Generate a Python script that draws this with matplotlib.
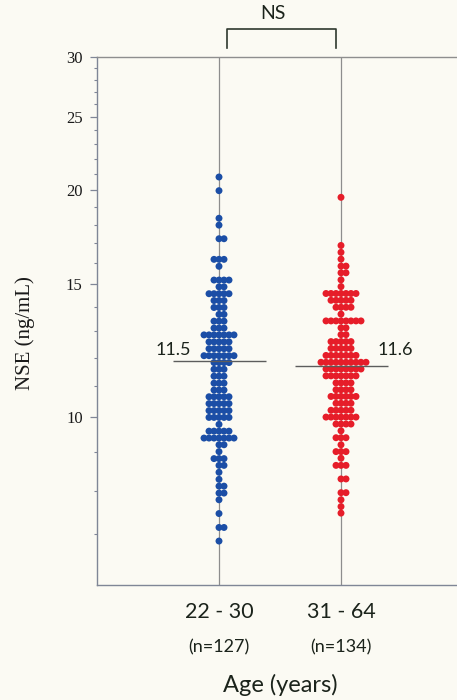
import matplotlib
matplotlib.use("Agg")
import matplotlib.pyplot as plt
import numpy as np
from matplotlib import transforms
from matplotlib.ticker import FixedLocator, NullFormatter, FixedFormatter

# ---------------- data ----------------
categories = ["22 - 30", "31 - 64"]
n_labels = ["(n=127)", "(n=134)"]

# dot rows: value (ng/mL) and number of dots in that row
blue_levels = [20.81, 19.96, 18.35, 17.97, 17.24, 16.19, 15.85, 15.20,
               14.89, 14.58, 14.28, 13.98, 13.69, 13.41, 13.13, 12.86,
               12.59, 12.33, 12.07, 11.82, 11.58, 11.34, 11.10, 10.87,
               10.65, 10.43, 10.21, 10.00, 9.79, 9.59, 9.39, 9.20,
               9.01, 8.82, 8.64, 8.46, 8.28, 8.11, 7.94, 7.78,
               7.46, 7.15, 6.86]
blue_counts = [1, 1, 1, 1, 2, 3, 1, 4,
               2, 5, 3, 3, 2, 3, 3, 7,
               5, 5, 7, 4, 3, 3, 3, 3,
               5, 5, 5, 5, 1, 5, 7, 2,
               1, 3, 2, 1, 1, 2, 2, 1,
               1, 2, 1]

red_levels = [19.56, 16.89, 16.54, 16.20, 15.86, 15.54, 15.21, 14.90,
              14.59, 14.29, 13.99, 13.70, 13.42, 13.14, 12.87, 12.60,
              12.34, 12.08, 11.83, 11.59, 11.35, 11.11, 10.88, 10.66,
              10.44, 10.22, 10.01, 9.80, 9.60, 9.40, 9.20, 9.01,
              8.83, 8.64, 8.29, 7.95, 7.78, 7.62, 7.47]
red_counts = [1, 1, 1, 1, 2, 2, 1, 1,
              7, 5, 4, 1, 8, 2, 2, 5,
              5, 7, 10, 8, 7, 4, 4, 6,
              4, 5, 7, 4, 1, 3, 1, 3,
              1, 3, 2, 2, 1, 1, 1]

median_lines = [11.88, 11.71]       # where the horizontal lines are drawn
median_labels = ["11.5", "11.6"]    # numbers printed next to them

y_ticks = [10, 15, 20, 25, 30]
y_tick_labels = ["10", "15", "20", "25", "30"]
y_minor = [7, 8, 9, 11, 12, 13, 14, 16, 17, 18, 19, 21, 22, 23, 24, 26, 27, 28, 29]

# ---------------- style ----------------
bg = "#fbfaf3"
blue = "#1b4ea6"
red = "#e61d29"
txt = "#1b231b"
axis_col = "#7f8696"
serif = ["Liberation Serif", "DejaVu Serif"]
sans = ["Lato", "DejaVu Sans"]

fig = plt.figure(figsize=(4.57, 7.0), dpi=100)
fig.patch.set_facecolor(bg)
ax = fig.add_axes([97 / 457, 115 / 700, 366 / 457, 528 / 700])
ax.set_facecolor(bg)
ax.set_yscale("log")
ax.set_ylim(6, 30)
ax.set_xlim(0, 3)

centers = [1, 2]
dx = 5.0 / 122.0  # horizontal spacing between neighbouring dots


def swarm(center, levels, counts):
    xs, ys = [], []
    for v, n in zip(levels, counts):
        if n % 2 == 1:
            offs = np.arange(n) - (n - 1) / 2
        else:
            offs = np.arange(n) - (n / 2 - 1)
        xs.extend(center + offs * dx)
        ys.extend([v] * n)
    return np.array(xs), np.array(ys)


for c in centers:
    ax.axvline(c, color="#8d8d8d", lw=0.9, zorder=1)

for c, lev, cnt, col in [(1, blue_levels, blue_counts, blue),
                         (2, red_levels, red_counts, red)]:
    xs, ys = swarm(c, lev, cnt)
    ax.scatter(xs, ys, s=25, c=col, edgecolors="none", zorder=3)

# median lines and labels
label_dx = [-0.377, 0.443]
for c, m, lab, ldx in zip(centers, median_lines, median_labels, label_dx):
    ax.hlines(m, c - 0.38, c + 0.385, color="#5c5c5c", lw=1.0, zorder=4)
    ax.text(c + ldx, 12.1, lab, ha="center", va="baseline",
            fontsize=13, family=sans, color=txt, zorder=5)

# axes styling
ax.yaxis.set_major_locator(FixedLocator(y_ticks))
ax.yaxis.set_major_formatter(FixedFormatter(y_tick_labels))
ax.yaxis.set_minor_locator(FixedLocator(y_minor))
ax.yaxis.set_minor_formatter(NullFormatter())
ax.set_xticks([])
ax.tick_params(axis="y", which="major", length=5.3, width=0.9, color=axis_col,
               direction="out", pad=5, labelsize=12, labelcolor="#1a1a1a")
ax.tick_params(axis="y", which="minor", length=2.3, width=0.8, color=axis_col,
               direction="out")
for lab in ax.get_yticklabels():
    lab.set_family(serif)

ax.spines["right"].set_visible(False)
ax.spines["left"].set_color(axis_col)
ax.spines["bottom"].set_color(axis_col)
ax.spines["top"].set_color("#8e8e8e")
for s in ["left", "bottom", "top"]:
    ax.spines[s].set_linewidth(1.0)

# y label
fig.text(25 / 457, 1 - 333 / 700, "NSE (ng/mL)", rotation=90, ha="center",
         va="center", fontsize=15, family=serif, color="#1a1a1a")

# category labels
tr = transforms.blended_transform_factory(ax.transData, fig.transFigure)
for c, cat, nl in zip(centers, categories, n_labels):
    ax.text(c, 1 - 611.7 / 700, cat, transform=tr, ha="center", va="center",
            fontsize=15.5, family=sans, color=txt)
    ax.text(c, 1 - 647.7 / 700, nl, transform=tr, ha="center", va="center",
            fontsize=13, family=sans, color=txt)
ax.text(1.5, 1 - 685 / 700, "Age (years)", transform=tr, ha="center",
        va="center", fontsize=17, family=sans, color=txt)

# NS bracket
bx0, bx1 = 1.066, 1.959
ax.plot([bx0, bx0, bx1, bx1], [1 - 48 / 700, 1 - 29 / 700, 1 - 29 / 700, 1 - 48 / 700],
        transform=tr, color="#2e382e", lw=1.2, clip_on=False)
ax.text(1.443, 1 - 13.7 / 700, "NS", transform=tr, ha="center", va="center",
        fontsize=14, family=sans, color=txt)

fig.savefig("out.png", dpi=100, facecolor=bg)
